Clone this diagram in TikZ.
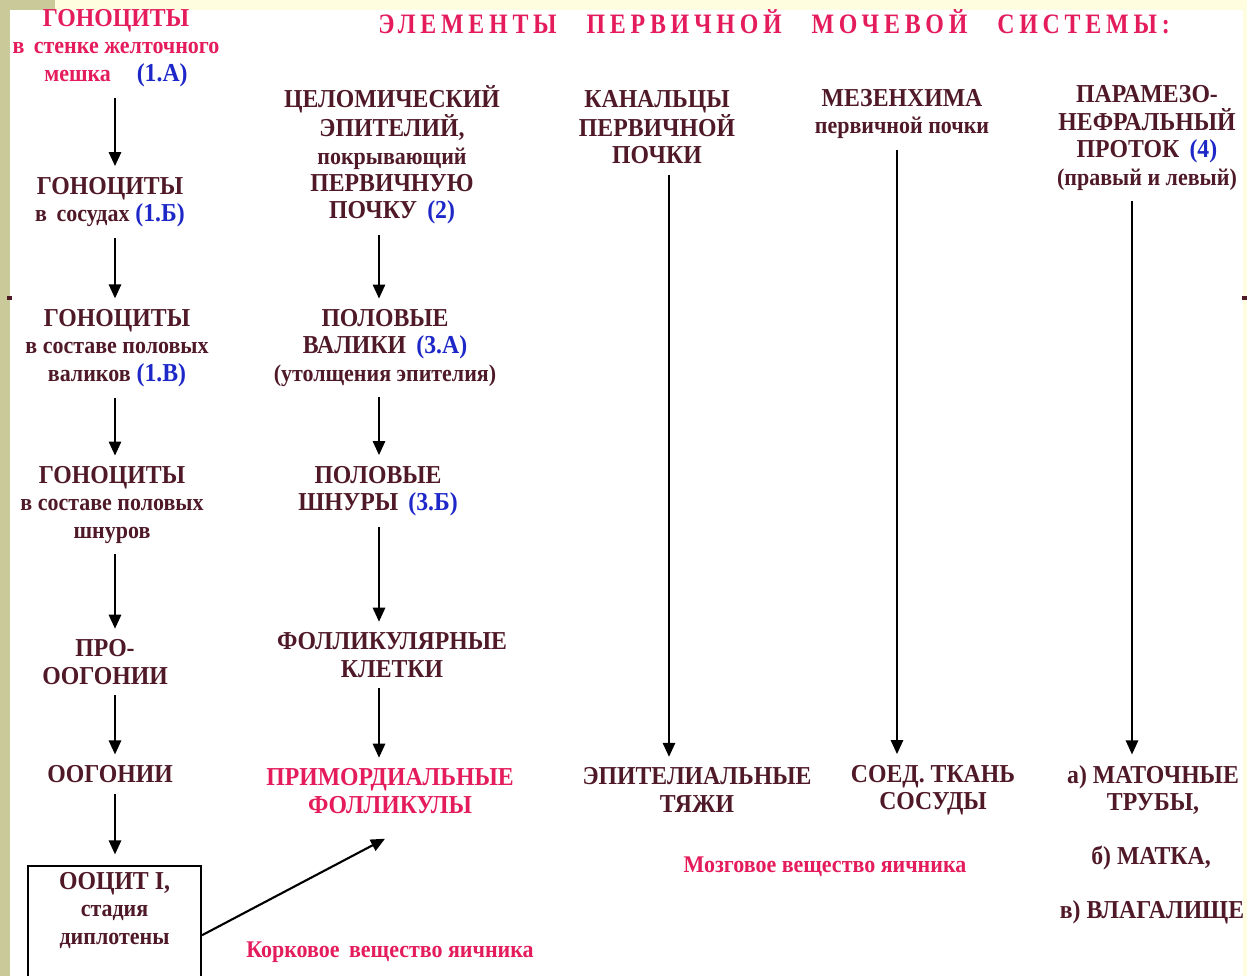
\documentclass[tikz,border=0pt]{standalone}
\usepackage{fontspec}
\setmainfont{Liberation Serif}[FakeStretch=0.92]
\newfontfamily\titlefont{Liberation Serif Bold}[FakeStretch=0.85,LetterSpace=17]
\usepackage{xcolor}
\usetikzlibrary{arrows.meta,positioning,calc}
\definecolor{darktext}{RGB}{80,25,40}
\definecolor{pinktext}{RGB}{228,28,92}
\definecolor{bluetext}{RGB}{30,40,200}
\definecolor{olivestrip}{RGB}{201,201,154}
\definecolor{creamstrip}{RGB}{255,253,224}
\newcommand{\bigline}{\fontsize{14.7pt}{15.6pt}\selectfont}
\newcommand{\smallline}{\fontsize{13.6pt}{15.6pt}\selectfont}
\newcommand{\stage}[1]{\textcolor{bluetext}{(#1)}}
\tikzset{
      flow/.style    = {black, line width=1.2pt, shorten <=6pt, shorten >=6pt,
                        -{Triangle[length=8pt,width=7pt]}},
      pinklabel/.style = {text=pinktext},
      stagebox/.style = {draw, line width=1.2pt, minimum width=3.46cm, minimum height=2.4cm},
    }

\begin{document}
\begin{tikzpicture}[x=0.02cm, y=-0.02cm]
        \tikzstyle{every node} = [align=center, inner sep=0pt, text=darktext, font=\bfseries\bigline]
        \clip (0,0) rectangle (1247,976);
        % background strips
        \fill[white] (0,0) rectangle (1247,976);
        \fill[creamstrip] (55,0) rectangle (1247,10);
        \fill[creamstrip] (1243,0) rectangle (1247,976);
        \fill[olivestrip] (0,0) rectangle (55,10);
        \fill[olivestrip] (0,0) rectangle (10,976);
        \fill[darktext] (7,296) rectangle (12,300);
        \fill[darktext] (1242,296) rectangle (1247,300);

        \node[pinklabel] (title) at (774,22) {\titlefont\fontsize{16pt}{17pt}\selectfont
              ЭЛЕМЕНТЫ\hspace{17pt}ПЕРВИЧНОЙ\hspace{17pt}МОЧЕВОЙ\hspace{17pt}СИСТЕМЫ:};

        % column 1: gonocytes
        \coordinate (c1) at (115,0);
        \node[pinklabel] (g1) at (116,48) {ГОНОЦИТЫ\\ {\smallline в\, стенке желточного}\\ {\smallline мешка}\quad\stage{1.А}};
        \node (g2) at (110,202) {ГОНОЦИТЫ\\ {\smallline в\, сосудах} \stage{1.Б}};
        \node (g3) at (117,348) {ГОНОЦИТЫ\\ {\smallline в составе половых}\\ {\smallline валиков} \stage{1.В}};
        \node (g4) at (112,505) {ГОНОЦИТЫ\\ {\smallline в составе половых}\\ {\smallline шнуров}};
        \node (g5) at (105,662) {ПРО-\\ ООГОНИИ};
        \node (g6) at (110,774) {ООГОНИИ};
        \node[stagebox] (oocyte) at (114.5,926) {ООЦИТ I,\\ {\smallline стадия}\\ {\smallline диплотены}\\ \strut};

        % column 2: coelomic epithelium
        \coordinate (c2) at (379,0);
        \node (e1) at (392,155) {ЦЕЛОМИЧЕСКИЙ\\ ЭПИТЕЛИЙ,\\ {\smallline покрывающий}\\ ПЕРВИЧНУЮ\\ ПОЧКУ\, \stage{2}};
        \node (e2) at (385,348) {ПОЛОВЫЕ\\ ВАЛИКИ\, \stage{3.А}\\ {\smallline (утолщения эпителия)}};
        \node (e3) at (378,491) {ПОЛОВЫЕ\\ ШНУРЫ\, \stage{3.Б}};
        \node (e4) at (392,655) {ФОЛЛИКУЛЯРНЫЕ\\ КЛЕТКИ};
        \node[pinklabel] (e5) at (390,791) {ПРИМОРДИАЛЬНЫЕ\\ ФОЛЛИКУЛЫ};
        \node[pinklabel, font=\bfseries\smallline] (cortex) at (390,952) {Корковое\, вещество яичника};

        % columns 3-5
        \node (k1) at (657,127) {КАНАЛЬЦЫ\\ ПЕРВИЧНОЙ\\ ПОЧКИ};
        \node (k2) at (697,790) {ЭПИТЕЛИАЛЬНЫЕ\\ ТЯЖИ};
        \node (m1) at (902,114) {МЕЗЕНХИМА\\ {\smallline первичной почки}};
        \node (m2) at (933,790) {СОЕД. ТКАНЬ\\ СОСУДЫ};
        \node[pinklabel, font=\bfseries\smallline] (medulla) at (825,867) {Мозговое вещество яичника};
        \node (p1) at (1147,138) {ПАРАМЕЗО-\\ НЕФРАЛЬНЫЙ\\ ПРОТОК\, \stage{4}\\ {\smallline (правый и левый)}};
        \node (p2) at (1153,790) {а) МАТОЧНЫЕ\\ ТРУБЫ,};
        \node (p3) at (1151,858) {б) МАТКА,};
        \node (p4) at (1152,912) {в) ВЛАГАЛИЩЕ};

        \path (g1.south -| c1) edge[flow] (g2.north -| c1);
        \path (g2.south -| c1) edge[flow] (g3.north -| c1);
        \path (g3.south -| c1) edge[flow] (g4.north -| c1);
        \path (g4.south -| c1) edge[flow] (g5.north -| c1);
        \path (g5.south -| c1) edge[flow] (g6.north -| c1);
        \path (g6.south -| c1) edge[flow] (oocyte.north -| c1);
        \path (oocyte.-6) edge[flow, shorten <=0pt, shorten >=0pt] ($(e5.south)+(-5,25)$);

        \path (e1.south -| c2) edge[flow] (e2.north -| c2);
        \path (e2.south -| c2) edge[flow] (e3.north -| c2);
        \path (e3.south -| c2) edge[flow] (e4.north -| c2);
        \path (e4.south -| c2) edge[flow] (e5.north -| c2);

        \path (k1.south -| 669,0) edge[flow] (k2.north -| 669,0);
        \path (m1.south -| 897,0) edge[flow] (m2.north -| 897,0);
        \path (p1.south -| 1132,0) edge[flow] (p2.north -| 1132,0);
\end{tikzpicture}
\end{document}
